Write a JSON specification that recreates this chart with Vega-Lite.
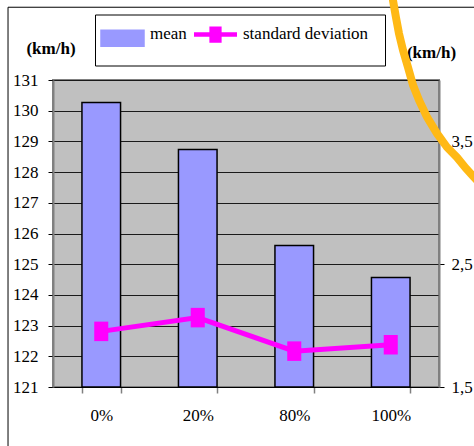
{
  "$schema": "https://vega.github.io/schema/vega-lite/v6.json",
  "width": 386,
  "height": 307,
  "autosize": {"type": "none"},
  "padding": {"left": 53, "top": 80, "right": 35, "bottom": 59},
  "background": "white",
  "config": {
    "view": {"fill": "#C0C0C0", "stroke": "#808080", "strokeWidth": 2},
    "font": "Liberation Serif"
  },
  "datasets": {
    "main": [
      {"load": "0%", "mean": 130.27, "sd": 1.953},
      {"load": "20%", "mean": 128.74, "sd": 2.065},
      {"load": "80%", "mean": 125.61, "sd": 1.792},
      {"load": "100%", "mean": 124.57, "sd": 1.844}
    ],
    "curve": [
      {"pos": 3.513, "kmh": 133.86},
      {"pos": 3.523, "kmh": 133.6},
      {"pos": 3.554, "kmh": 133.04},
      {"pos": 3.585, "kmh": 132.52},
      {"pos": 3.627, "kmh": 131.97},
      {"pos": 3.679, "kmh": 131.41},
      {"pos": 3.731, "kmh": 130.83},
      {"pos": 3.793, "kmh": 130.34},
      {"pos": 3.876, "kmh": 129.79},
      {"pos": 3.979, "kmh": 129.26},
      {"pos": 4.083, "kmh": 128.81},
      {"pos": 4.187, "kmh": 128.48},
      {"pos": 4.28, "kmh": 128.12},
      {"pos": 4.363, "kmh": 127.83},
      {"pos": 4.446, "kmh": 127.57}
    ],
    "frame": [
      {"p0": -0.466, "p1": 5, "k0": 133.37, "k1": 133.37},
      {"p0": -0.466, "p1": -0.466, "k0": 133.37, "k1": 110}
    ]
  },
  "layer": [
    {
      "data": {"name": "main"},
      "mark": {"type": "bar", "stroke": "black", "strokeWidth": 1.5},
      "encoding": {
        "x": {
          "field": "load", "type": "nominal", "sort": null,
          "scale": {"paddingInner": 0.6, "paddingOuter": 0.3},
          "axis": {"title": null, "labelAngle": 0, "tickBand": "extent", "tickSize": 6, "tickColor": "#808080", "tickWidth": 1.5, "domainColor": "black", "labelPadding": 14, "grid": false,
            "labelFont": "Liberation Serif", "labelFontSize": 17, "labelColor": "black"}
        },
        "y": {
          "field": "mean", "type": "quantitative",
          "scale": {"domain": [121, 131], "nice": false, "zero": false},
          "axis": {
            "values": [121, 122, 123, 124, 125, 126, 127, 128, 129, 130, 131],
            "grid": true, "gridColor": "#1a1a1a", "gridWidth": 1,
            "tickSize": 5, "tickColor": "black", "domainColor": "#808080", "domainWidth": 2,
            "labelPadding": 10, "labelFont": "Liberation Serif", "labelFontSize": 17, "labelColor": "black",
            "title": "(km/h)", "titleAngle": 0, "titleX": -2.5, "titleY": -32,
            "titleAlign": "center", "titleBaseline": "middle",
            "titleFont": "Liberation Serif", "titleFontSize": 17, "titleFontWeight": "bold", "titleColor": "black"
          }
        },
        "y2": {"datum": 121},
        "color": {
          "datum": "mean", "type": "nominal",
          "scale": {"domain": ["mean", "standard deviation"], "range": ["#9999FF", "#FF00FF"]},
          "legend": {
            "orient": "none", "legendX": 42, "legendY": -65.5, "direction": "horizontal",
            "title": null, "padding": 16, "strokeColor": "black", "fillColor": "white",
            "labelFont": "Liberation Serif", "labelFontSize": 17, "labelColor": "black", "labelBaseline": "alphabetic",
            "symbolSize": 1849, "symbolOffset": 3, "labelOffset": 19, "columnPadding": -2, "symbolOpacity": 1,
            "symbolStrokeColor": "black",
            "encode": {
              "symbols": {"update": {
                "shape": {"signal": "datum.value === 'mean' ? 'M-1,-0.42H1V0.32H-1Z' : 'M-1,-0.22H1M-0.18,-0.48H0.18V0.06H-0.18Z'"},
                "size": {"value": 1849},
                "fill": {"signal": "datum.value === 'mean' ? '#9999FF' : '#FF00FF'"},
                "stroke": {"signal": "datum.value === 'mean' ? '#000000' : '#FF00FF'"},
                "strokeWidth": {"signal": "datum.value === 'mean' ? 1.5 : 4.5"},
                "opacity": {"value": 1},
                "fillOpacity": {"value": 1},
                "strokeOpacity": {"value": 1}
              }}
            }
          }
        }
      }
    },
    {
      "data": {"name": "main"},
      "mark": {"type": "line", "color": "#FF00FF", "strokeWidth": 5, "point": {"shape": "M-0.72,-1H0.72V1H-0.72Z", "size": 380, "filled": true, "color": "#FF00FF"}},
      "encoding": {
        "x": {"field": "load", "type": "nominal", "sort": null, "scale": {"paddingInner": 0.6, "paddingOuter": 0.3}, "axis": null},
        "y": {
          "field": "sd", "type": "quantitative",
          "scale": {"domain": [1.5, 4], "nice": false, "zero": false},
          "axis": {
            "orient": "right", "values": [1.5, 2.5, 3.5],
            "labelExpr": "replace(format(datum.value, '.1f'), '.', ',')",
            "grid": false, "tickSize": 5, "tickColor": "black", "domainColor": "#808080", "domainWidth": 2,
            "labelPadding": 7, "labelFont": "Liberation Serif", "labelFontSize": 17, "labelColor": "black",
            "title": "(km/h)", "titleAngle": 0, "titleX": -8, "titleY": -28,
            "titleAlign": "center", "titleBaseline": "middle",
            "titleFont": "Liberation Serif", "titleFontSize": 17, "titleFontWeight": "bold", "titleColor": "black"
          }
        },
        "color": {
          "datum": "standard deviation", "type": "nominal",
          "legend": {
            "orient": "none", "legendX": 42, "legendY": -65.5, "direction": "horizontal",
            "title": null, "padding": 16, "strokeColor": "black", "fillColor": "white",
            "labelFont": "Liberation Serif", "labelFontSize": 17, "labelColor": "black", "labelBaseline": "alphabetic",
            "symbolSize": 1849, "symbolOffset": 3, "labelOffset": 19, "columnPadding": -2, "symbolOpacity": 1,
            "symbolStrokeColor": "black",
            "encode": {
              "symbols": {"update": {
                "shape": {"signal": "datum.value === 'mean' ? 'M-1,-0.42H1V0.32H-1Z' : 'M-1,-0.22H1M-0.18,-0.48H0.18V0.06H-0.18Z'"},
                "size": {"value": 1849},
                "fill": {"signal": "datum.value === 'mean' ? '#9999FF' : '#FF00FF'"},
                "stroke": {"signal": "datum.value === 'mean' ? '#000000' : '#FF00FF'"},
                "strokeWidth": {"signal": "datum.value === 'mean' ? 1.5 : 4.5"},
                "opacity": {"value": 1},
                "fillOpacity": {"value": 1},
                "strokeOpacity": {"value": 1}
              }}
            }
          }
        }
      }
    },
    {
      "data": {"name": "frame"},
      "mark": {"type": "rule", "color": "black", "strokeWidth": 1, "clip": false},
      "encoding": {
        "x": {"field": "p0", "type": "quantitative", "scale": {"domain": [0, 4], "nice": false, "zero": false}, "axis": null},
        "x2": {"field": "p1"},
        "y": {"field": "k0", "type": "quantitative", "scale": {"domain": [121, 131], "nice": false, "zero": false}, "axis": null},
        "y2": {"field": "k1"}
      }
    },
    {
      "data": {"name": "curve"},
      "mark": {"type": "line", "color": "#FFB915", "strokeWidth": 8, "clip": false},
      "encoding": {
        "x": {"field": "pos", "type": "quantitative", "scale": {"domain": [0, 4], "nice": false, "zero": false}, "axis": null},
        "y": {"field": "kmh", "type": "quantitative", "scale": {"domain": [121, 131], "nice": false, "zero": false}, "axis": null}
      }
    }
  ],
  "resolve": {"scale": {"x": "independent", "y": "independent", "color": "shared"}}
}
